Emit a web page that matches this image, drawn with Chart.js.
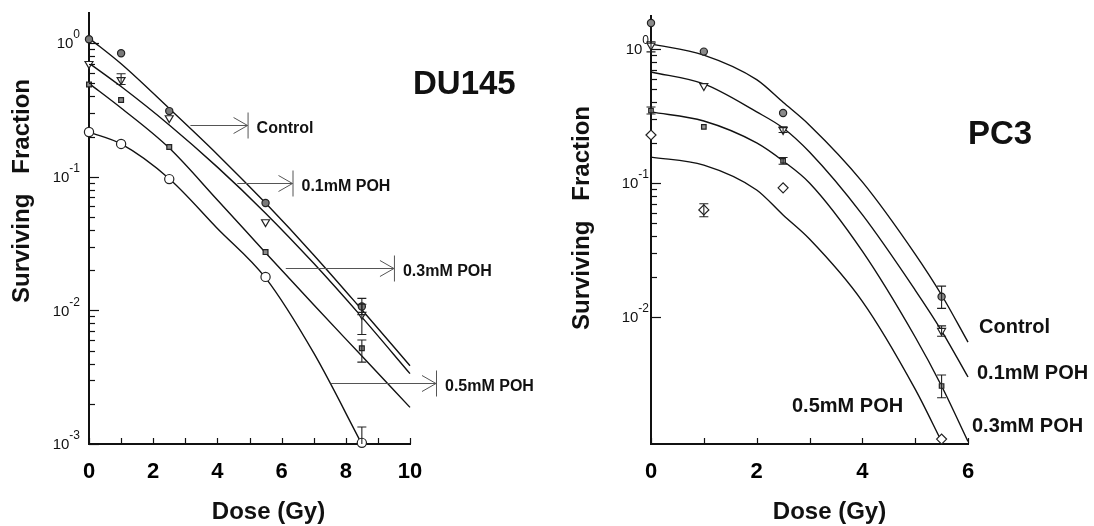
<!DOCTYPE html>
<html><head><meta charset="utf-8">
<script src="https://cdn.jsdelivr.net/npm/chart.js@4.4.1/dist/chart.umd.min.js"></script>
<style>
html,body{margin:0;padding:0;background:#fff;}
#wrap{position:relative;width:1094px;height:526px;overflow:hidden;}
#wrap canvas{position:absolute;left:0;top:0;}
</style></head><body>
<div id="wrap"><canvas id="c1" width="1094" height="526"></canvas><canvas id="c2" width="1094" height="526"></canvas></div>
<script>
// ---------------- DU145 (left panel) ----------------
const doseL   = [0, 1, 2.5, 5.5, 8.5];
const ctrlL   = [1.07, 0.84, 0.31, 0.0636, 0.0107];
const poh01L  = [0.70, 0.53, 0.275, 0.0458, 0.0093];
const poh03L  = [0.49, 0.375, 0.167, 0.0273, 0.0052];
const poh05L  = [0.216, 0.176, 0.096, 0.0178, 0.00102];
const ctrlErrHiL  = [null, null, null, null, 0.0123];
const ctrlErrLoL  = [null, null, null, null, 0.0093];
const poh01ErrHiL = [null, 0.59, null, null, 0.0111];
const poh01ErrLoL = [null, 0.49, null, null, 0.0066];
const poh03ErrHiL = [null, null, null, null, 0.0060];
const poh03ErrLoL = [null, null, null, null, 0.0041];
const poh05ErrHiL = [null, null, null, null, 0.00134];
const poh05ErrLoL = [null, null, null, null, 0.0008];

const fitDoseL     = [0, 1, 2.5, 4, 5.5, 7, 8.5, 10];
const ctrlFitL     = [1.09, 0.70, 0.324, 0.147, 0.0635, 0.026, 0.0101, 0.00385];
const poh01FitL    = [0.709, 0.473, 0.244, 0.118, 0.0534, 0.0225, 0.0089, 0.00336];
const poh03FitL    = [0.50, 0.327, 0.164, 0.067, 0.027, 0.011, 0.00455, 0.00188];
const poh05FitDoseL= [0, 1, 2.5, 4, 5.5, 7, 8.5];
const poh05FitL    = [0.216, 0.176, 0.0966, 0.041, 0.0175, 0.0048, 0.001];

const arrowLabelsL = ['Control', '0.1mM POH', '0.3mM POH', '0.5mM POH'];
const arrowYL      = [0.244, 0.090, 0.0209, 0.00288];
const arrowFromXL  = [3.16, 4.62, 6.13, 7.53];
const arrowToXL    = [4.94, 6.34, 9.50, 10.81];

const xLabelsL   = [0, 2, 4, 6, 8, 10];
const yDecadesL  = [1, 0.1, 0.01, 0.001];
const yExpL      = ['0', '-1', '-2', '-3'];

// ---------------- PC3 (right panel) ----------------
const doseR   = [0, 1, 2.5, 5.5];
const ctrlR   = [1.56, 0.955, 0.333, 0.0142];
const poh01R  = [1.06, 0.53, 0.249, 0.0079];
const poh03R  = [0.347, 0.262, 0.146, 0.00306];
const poh05R  = [0.228, 0.063, 0.092, 0.00123];
const ctrlErrHiR  = [null, null, null, 0.0170];
const ctrlErrLoR  = [null, null, null, 0.0116];
const poh01ErrHiR = [1.13, null, 0.262, 0.0086];
const poh01ErrLoR = [0.95, null, 0.238, 0.0072];
const poh03ErrHiR = [0.369, null, 0.155, 0.0037];
const poh03ErrLoR = [0.327, null, 0.138, 0.0025];
const poh05ErrHiR = [null, 0.070, null, null];
const poh05ErrLoR = [null, 0.056, null, null];

const fitDoseR      = [0, 1, 2, 2.5, 3, 4, 5, 5.5, 6];
const ctrlFitR      = [1.09, 0.90, 0.59, 0.40, 0.27, 0.102, 0.0295, 0.0146, 0.0065];
const poh01FitR     = [0.673, 0.548, 0.339, 0.257, 0.170, 0.058, 0.0159, 0.0079, 0.00357];
const poh03FitR     = [0.339, 0.290, 0.199, 0.146, 0.100, 0.031, 0.0071, 0.00306, 0.00118];
const poh05FitDoseR = [0, 1, 2, 2.5, 3, 4, 5, 5.5];
const poh05FitR     = [0.156, 0.136, 0.0887, 0.0577, 0.0382, 0.0131, 0.0029, 0.00118];

const seriesLabelsR = ['Control', '0.1mM POH', '0.3mM POH', '0.5mM POH'];
const xLabelsR   = [0, 2, 4, 6];
const yDecadesR  = [1, 0.1, 0.01];
const yExpR      = ['0', '-1', '-2'];

const minorMult = [2, 3, 4, 5, 6, 7, 8, 9];

// ---------------- helpers ----------------
const FONT = '"Liberation Sans", Arial, Helvetica, sans-serif';
const pts = (xs, ys) => xs.map((x, i) => ({x: x, y: ys[i]}));

function markerSet(xs, ys, hi, lo, style) {
  return Object.assign({
    data: pts(xs, ys), showLine: false, clip: false, errHi: hi, errLo: lo,
    borderColor: '#222', borderWidth: 1.2
  }, style);
}
function fitLine(xs, ys) {
  return { data: pts(xs, ys), showLine: true, pointRadius: 0, borderColor: '#111',
    borderWidth: 1.4, cubicInterpolationMode: 'monotone', fill: false, clip: false };
}

const decor = {
  id: 'decor',
  afterDatasetsDraw(chart, args, o) {
    const ctx = chart.ctx, xs = chart.scales.x, ys = chart.scales.y, a = chart.chartArea;
    ctx.save();
    // error bars
    ctx.strokeStyle = '#222'; ctx.lineWidth = 1.1;
    chart.data.datasets.forEach(ds => {
      if (!ds.errHi) return;
      ds.data.forEach((p, i) => {
        const h = ds.errHi[i], l = ds.errLo[i];
        if (h == null) return;
        const px = xs.getPixelForValue(p.x);
        const y1 = ys.getPixelForValue(h);
        const y2 = Math.min(ys.getPixelForValue(l), a.bottom);
        ctx.beginPath();
        ctx.moveTo(px, y1); ctx.lineTo(px, y2);
        ctx.moveTo(px - 4.5, y1); ctx.lineTo(px + 4.5, y1);
        if (ys.getPixelForValue(l) <= a.bottom) { ctx.moveTo(px - 4.5, y2); ctx.lineTo(px + 4.5, y2); }
        ctx.stroke();
      });
    });
    // inward ticks
    ctx.strokeStyle = '#111'; ctx.lineWidth = 1.2;
    for (let v = Math.ceil(xs.min); v <= xs.max + 1e-9; v += 1) {
      const px = Math.round(xs.getPixelForValue(v)) + 0.5;
      ctx.beginPath(); ctx.moveTo(px, a.bottom); ctx.lineTo(px, a.bottom - 6); ctx.stroke();
    }
    o.decades.forEach(d => {
      [1].concat(minorMult).forEach(k => {
        const v = d * k;
        if (v < ys.min * 0.999 || v > ys.max * 1.001) return;
        const py = Math.round(ys.getPixelForValue(v)) + 0.5;
        ctx.beginPath(); ctx.moveTo(a.left, py); ctx.lineTo(a.left + (k === 1 ? 10 : 6), py); ctx.stroke();
      });
    });
    // decade tick labels  10^n
    ctx.fillStyle = '#111';
    ctx.textAlign = 'right'; ctx.textBaseline = 'middle';
    o.decades.forEach((d, i) => {
      if (d < ys.min * 0.999) return;
      const py = ys.getPixelForValue(d);
      const right = a.left - o.labelGap;
      ctx.font = '12px ' + FONT;
      const ew = ctx.measureText(o.exps[i]).width;
      ctx.fillText(o.exps[i], right, py - 8);
      ctx.font = '15px ' + FONT;
      ctx.fillText('10', right - ew, py + 1);
    });
    // axis titles
    ctx.font = 'bold 24px ' + FONT;
    ctx.textAlign = 'center'; ctx.textBaseline = 'alphabetic';
    ctx.fillText('Dose (Gy)', (a.left + a.right) / 2 + o.xTitleShift, 519);
    ctx.save();
    ctx.translate(o.yTitleX, o.yTitleY); ctx.rotate(-Math.PI / 2);
    ctx.textBaseline = 'middle';
    ctx.fillText('Surviving   Fraction', 0, 0);
    ctx.restore();
    // panel title
    ctx.font = 'bold 33px ' + FONT; ctx.textAlign = 'left';
    ctx.fillText(o.panel, o.panelX, o.panelY);
    if (o.arrows) {
      ctx.strokeStyle = '#555'; ctx.lineWidth = 1;
      o.arrows.labels.forEach((t, i) => {
        const y = Math.round(ys.getPixelForValue(o.arrows.y[i])) + 0.5;
        const x0 = xs.getPixelForValue(o.arrows.from[i]);
        const x1 = xs.getPixelForValue(o.arrows.to[i]);
        ctx.beginPath();
        ctx.moveTo(x0, y); ctx.lineTo(x1, y);
        ctx.moveTo(x1 - 14, y - 8); ctx.lineTo(x1, y); ctx.lineTo(x1 - 14, y + 8);
        ctx.moveTo(x1 + 0.5, y - 13); ctx.lineTo(x1 + 0.5, y + 13);
        ctx.stroke();
        ctx.font = 'bold 16px ' + FONT; ctx.fillStyle = '#111';
        ctx.fillText(t, x1 + 9, y + 7);
      });
    }
    if (o.labels) {
      ctx.font = 'bold 20px ' + FONT; ctx.fillStyle = '#111'; ctx.textAlign = 'left';
      o.labels.forEach(l => ctx.fillText(l.t, l.x, l.y));
    }
    ctx.restore();
  }
};

function makeChart(id, cfg) {
  return new Chart(document.getElementById(id), {
    type: 'line',
    data: { datasets: cfg.datasets },
    options: {
      responsive: false, animation: false, events: [],
      layout: { padding: cfg.padding },
      plugins: { legend: { display: false }, tooltip: { enabled: false }, decor: cfg.decor },
      scales: {
        x: { type: 'linear', min: cfg.xmin, max: cfg.xmax,
             grid: { display: false }, border: { display: true, color: '#111', width: 2 },
             ticks: { stepSize: 1, autoSkip: false, maxRotation: 0, padding: 7, color: '#000',
                      font: { family: FONT, size: 22, weight: 'bold' },
                      callback: v => cfg.xLabels.includes(v) ? String(v) : '' },
             afterFit: s => { s.height = 82; } },
        y: { type: 'logarithmic', min: cfg.ymin, max: cfg.ymax,
             grid: { display: false }, border: { display: true, color: '#111', width: 2 },
             ticks: { display: false },
             afterFit: s => { s.width = 89; } }
      }
    },
    plugins: [decor]
  });
}

const open = '#ffffff';
makeChart('c1', {
  xmin: 0, xmax: 10, ymin: 0.001, ymax: 1.68, xLabels: xLabelsL,
  padding: { left: 0, top: 13, right: 684, bottom: 0 },
  datasets: [
    markerSet(doseL, ctrlL, ctrlErrHiL, ctrlErrLoL, { pointStyle: 'circle', pointRadius: 3.6, backgroundColor: '#7a7a7a' }),
    markerSet(doseL, poh01L, poh01ErrHiL, poh01ErrLoL, { pointStyle: 'triangle', rotation: 180, pointRadius: 4.6, backgroundColor: open }),
    markerSet(doseL, poh03L, poh03ErrHiL, poh03ErrLoL, { pointStyle: 'rect', pointRadius: 3.4, backgroundColor: '#8a8a8a' }),
    markerSet(doseL, poh05L, poh05ErrHiL, poh05ErrLoL, { pointStyle: 'circle', pointRadius: 4.6, backgroundColor: open }),
    fitLine(fitDoseL, ctrlFitL),
    fitLine(fitDoseL, poh01FitL),
    fitLine(fitDoseL, poh03FitL),
    fitLine(poh05FitDoseL, poh05FitL)
  ],
  decor: { decades: yDecadesL, exps: yExpL, labelGap: 9, xTitleShift: 19, yTitleX: 22, yTitleY: 191,
           panel: 'DU145', panelX: 413, panelY: 94,
           arrows: { labels: arrowLabelsL, y: arrowYL, from: arrowFromXL, to: arrowToXL } }
});

makeChart('c2', {
  xmin: 0, xmax: 6, ymin: 0.00113, ymax: 1.76, xLabels: xLabelsR,
  padding: { left: 562, top: 16, right: 126, bottom: 0 },
  datasets: [
    markerSet(doseR, ctrlR, ctrlErrHiR, ctrlErrLoR, { pointStyle: 'circle', pointRadius: 3.6, backgroundColor: '#8a8a8a' }),
    markerSet(doseR, poh01R, poh01ErrHiR, poh01ErrLoR, { pointStyle: 'triangle', rotation: 180, pointRadius: 4.6, backgroundColor: open }),
    markerSet(doseR, poh03R, poh03ErrHiR, poh03ErrLoR, { pointStyle: 'rect', pointRadius: 3.2, backgroundColor: '#9a9a9a' }),
    markerSet(doseR, poh05R, poh05ErrHiR, poh05ErrLoR, { pointStyle: 'rectRot', pointRadius: 5, backgroundColor: open }),
    fitLine(fitDoseR, ctrlFitR),
    fitLine(fitDoseR, poh01FitR),
    fitLine(fitDoseR, poh03FitR),
    fitLine(poh05FitDoseR, poh05FitR)
  ],
  decor: { decades: yDecadesR, exps: yExpR, labelGap: 2, xTitleShift: 20, yTitleX: 582, yTitleY: 218,
           panel: 'PC3', panelX: 968, panelY: 144,
           labels: [ { t: seriesLabelsR[0], x: 979, y: 333 }, { t: seriesLabelsR[1], x: 977, y: 379 },
                     { t: seriesLabelsR[2], x: 972, y: 432 }, { t: seriesLabelsR[3], x: 792, y: 412 } ] }
});
</script>
</body></html>
